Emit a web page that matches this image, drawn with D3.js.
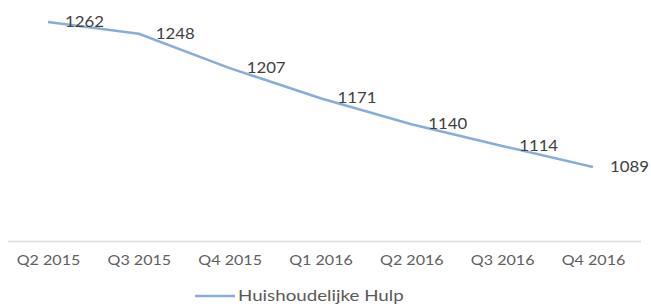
<!DOCTYPE html>
<html>
<head>
<meta charset="utf-8">
<script src="https://cdnjs.cloudflare.com/ajax/libs/d3/7.8.5/d3.min.js"></script>
<style>
  body { margin: 0; background: #fff; }
  svg { display: block; }
</style>
</head>
<body>
<script>
    // data
    var quarters = ["Q2 2015", "Q3 2015", "Q4 2015", "Q1 2016", "Q2 2016", "Q3 2016", "Q4 2016"];
    var hulpValues = [1262, 1248, 1207, 1171, 1140, 1114, 1089];
    var seriesName = "Huishoudelijke Hulp";

    var width = 651, height = 306;
    var lineColor = "#85aedd";

    var x = d3.scalePoint().domain(quarters).range([48, 593]);
    var y = d3.scaleLinear().domain([1000, 1262]).range([241.5, 22]);

    var container = d3.select("body").append("svg")
        .attr("width", width)
        .attr("height", height)
        .style("font-family", "Lato, 'Open Sans', sans-serif");

    // category axis, baseline only
    var xAxis = container.append("g")
        .attr("class", "xaxis")
        .attr("transform", "translate(0," + y(1000) + ")")
        .call(d3.axisBottom(x).tickSize(0).tickPadding(14));
    xAxis.select(".domain").remove();
    xAxis.append("line")
        .attr("x1", 8).attr("x2", 641)
        .attr("stroke", "#dcdcdc")
        .attr("stroke-width", 1.5);
    xAxis.selectAll("text")
        .attr("font-size", 14)
        .attr("fill", "#606060")
        .attr("font-family", "Lato, 'Open Sans', sans-serif")
        .attr("transform", "scale(1.15,1)");

    var lineFunction = d3.line()
        .x(function(d, i) { return x(quarters[i]); })
        .y(function(d) { return y(d); });

    container.append("path")
        .attr("d", lineFunction(hulpValues))
        .attr("stroke", lineColor)
        .attr("stroke-width", 2.5)
        .attr("fill", "none");

    // data labels, right of each point (stretched a bit like the picture)
    container.selectAll(".lbl").data(hulpValues).enter().append("text")
        .attr("class", "lbl")
        .attr("transform", function(d, i) {
            return "translate(" + (x(quarters[i]) + 17) + "," + y(d) + ") scale(1.12,1)";
        })
        .attr("dy", "0.35em")
        .attr("font-size", 15)
        .attr("fill", "#404040")
        .text(function(d) { return d; });

    // legend
    var legend = container.append("g").attr("transform", "translate(0,296)");
    legend.append("line")
        .attr("x1", 195).attr("x2", 235)
        .attr("stroke", lineColor)
        .attr("stroke-width", 2.5);
    legend.append("text")
        .attr("transform", "translate(238,0) scale(1.25,1)")
        .attr("dy", "0.35em")
        .attr("font-size", 15)
        .attr("fill", "#595959")
        .text(seriesName);
</script>
</body>
</html>
